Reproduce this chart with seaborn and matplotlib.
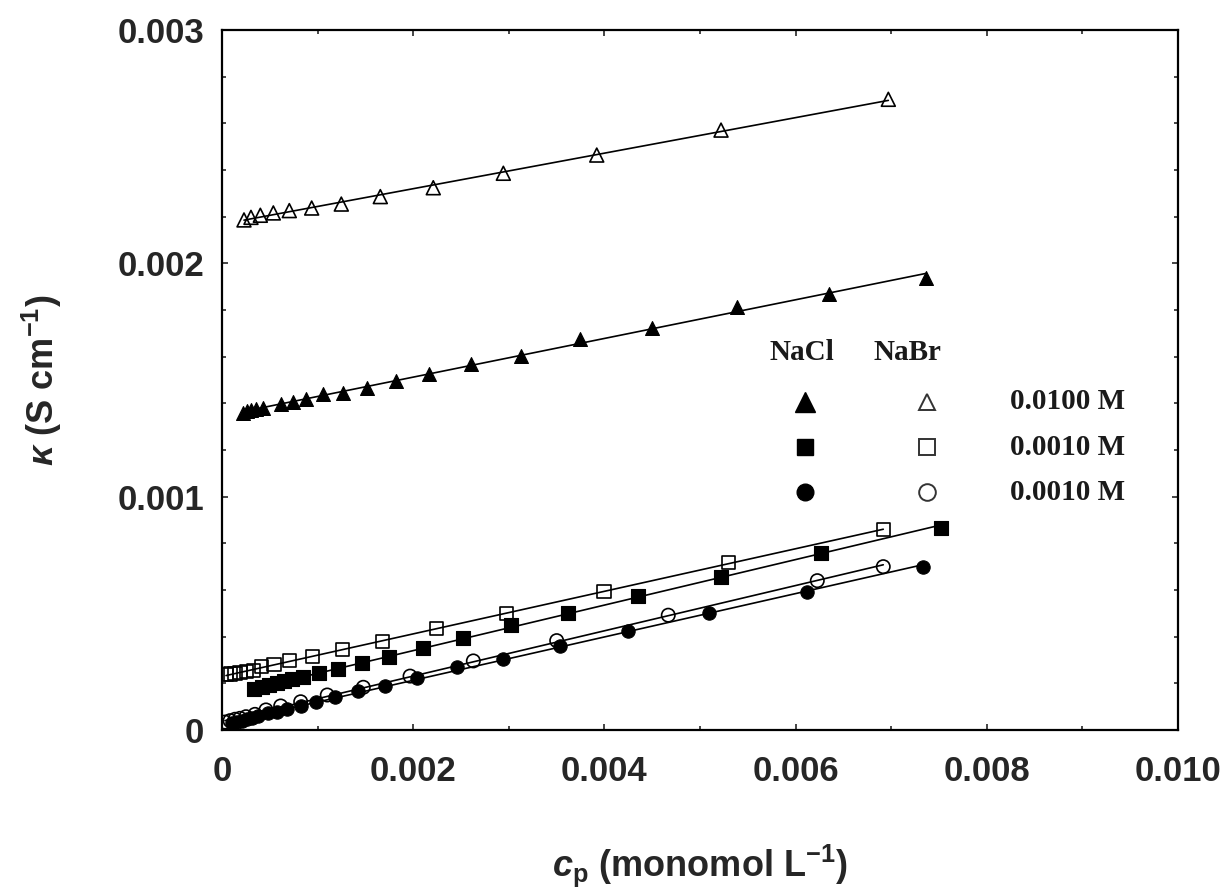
import numpy as np
import pandas as pd
import matplotlib
matplotlib.use('Agg')
import matplotlib.pyplot as plt
import seaborn as sns
from matplotlib.ticker import MultipleLocator, FixedLocator, FixedFormatter

# conductivity kappa (S cm^-1) vs polymer concentration c_p (monomol L^-1)
# NaCl 0.0100 M  (filled triangles)
nacl_hi_x = [0.000217, 0.000258, 0.000300, 0.000356, 0.000432, 0.000614, 0.000746,
             0.000879, 0.001053, 0.001263, 0.001514, 0.001817, 0.002168, 0.002605,
             0.003125, 0.003745, 0.004495, 0.005384, 0.006346, 0.007361]
nacl_hi_y = [0.001360, 0.001366, 0.001372, 0.001376, 0.001378, 0.001397, 0.001407,
             0.001420, 0.001440, 0.001446, 0.001467, 0.001496, 0.001524, 0.001567,
             0.001604, 0.001674, 0.001722, 0.001813, 0.001869, 0.001936]

# NaBr 0.0100 M  (open triangles)
nabr_hi_x = [0.000230, 0.000303, 0.000401, 0.000537, 0.000704, 0.000938, 0.001248,
             0.001656, 0.002210, 0.002943, 0.003920, 0.005220, 0.006970]
nabr_hi_y = [0.002186, 0.002197, 0.002206, 0.002216, 0.002226, 0.002237, 0.002254,
             0.002286, 0.002324, 0.002386, 0.002464, 0.002571, 0.002703]

# NaCl 0.0010 M  (filled squares)
nacl_sq_x = [0.000338, 0.000415, 0.000495, 0.000572, 0.000649, 0.000729, 0.000850,
             0.001018, 0.001217, 0.001461, 0.001750, 0.002099, 0.002518, 0.003023,
             0.003622, 0.004348, 0.005217, 0.006266, 0.007518]
nacl_sq_y = [0.000174, 0.000183, 0.000193, 0.000200, 0.000209, 0.000217, 0.000226,
             0.000243, 0.000261, 0.000286, 0.000314, 0.000350, 0.000396, 0.000450,
             0.000503, 0.000574, 0.000657, 0.000757, 0.000867]

# NaBr 0.0010 M  (open squares)
nabr_sq_x = [0.000042, 0.000084, 0.000136, 0.000188, 0.000258, 0.000327, 0.000415,
             0.000544, 0.000711, 0.000949, 0.001263, 0.001681, 0.002246, 0.002978,
             0.003996, 0.005296, 0.006917]
nabr_sq_y = [0.000236, 0.000240, 0.000243, 0.000246, 0.000252, 0.000257, 0.000271,
             0.000279, 0.000296, 0.000314, 0.000343, 0.000378, 0.000433, 0.000500,
             0.000593, 0.000717, 0.000860]

# NaCl 0.0010 M  (filled circles)
nacl_ci_x = [0.000101, 0.000154, 0.000206, 0.000258, 0.000311, 0.000380, 0.000484,
             0.000572, 0.000683, 0.000823, 0.000983, 0.001182, 0.001419, 0.001705,
             0.002043, 0.002455, 0.002943, 0.003536, 0.004250, 0.005097, 0.006116,
             0.007336]
nacl_ci_y = [0.000031, 0.000036, 0.000040, 0.000046, 0.000050, 0.000060, 0.000072,
             0.000078, 0.000089, 0.000103, 0.000121, 0.000140, 0.000168, 0.000189,
             0.000222, 0.000271, 0.000303, 0.000360, 0.000426, 0.000500, 0.000593,
             0.000697]

# NaBr 0.0010 M  (open circles)
nabr_ci_x = [0.000031, 0.000084, 0.000136, 0.000188, 0.000251, 0.000345, 0.000460,
             0.000614, 0.000823, 0.001101, 0.001478, 0.001967, 0.002629, 0.003501,
             0.004668, 0.006227, 0.006917]
nabr_ci_y = [0.000034, 0.000040, 0.000046, 0.000050, 0.000057, 0.000067, 0.000086,
             0.000103, 0.000121, 0.000150, 0.000183, 0.000231, 0.000296, 0.000383,
             0.000492, 0.000640, 0.000700]

x_ticks = [0, 0.002, 0.004, 0.006, 0.008, 0.010]
x_tick_labels = ['0', '0.002', '0.004', '0.006', '0.008', '0.010']
y_ticks = [0, 0.001, 0.002, 0.003]
y_tick_labels = ['0', '0.001', '0.002', '0.003']

legend_salts = ['NaCl', 'NaBr']
legend_conc = ['0.0100 M', '0.0010 M', '0.0010 M']

sns.set_style('ticks')
plt.rcParams['font.family'] = ['Liberation Sans', 'DejaVu Sans']
plt.rcParams['font.weight'] = 'bold'
plt.rcParams['mathtext.fontset'] = 'custom'
plt.rcParams['mathtext.rm'] = 'Liberation Sans:bold'
plt.rcParams['mathtext.it'] = 'Liberation Sans:bold:italic'
plt.rcParams['mathtext.bf'] = 'Liberation Sans:bold'

# (x, y, marker, filled, size)
series = [
    (nabr_hi_x, nabr_hi_y, '^', False, 10),
    (nacl_hi_x, nacl_hi_y, '^', True, 10),
    (nabr_sq_x, nabr_sq_y, 's', False, 9.4),
    (nacl_sq_x, nacl_sq_y, 's', True, 9.4),
    (nabr_ci_x, nabr_ci_y, 'o', False, 9.6),
    (nacl_ci_x, nacl_ci_y, 'o', True, 9.6),
]

fig = plt.figure(figsize=(12.31, 8.94), dpi=100)
ax = fig.add_axes([222 / 1231, 1 - 730 / 894, 956 / 1231, 700 / 894])

for xs, ys, mk, filled, ms in series:
    df = pd.DataFrame({'cp': xs, 'kappa': ys})
    sns.regplot(data=df, x='cp', y='kappa', ax=ax, scatter=False, ci=None,
                truncate=True, line_kws=dict(color='black', lw=1.2, zorder=2))
    if filled:
        sns.scatterplot(data=df, x='cp', y='kappa', ax=ax, marker=mk, s=ms ** 2,
                        color='black', edgecolor='black', linewidth=0.8, zorder=3)
    else:
        sns.scatterplot(data=df, x='cp', y='kappa', ax=ax, marker=mk, s=ms ** 2,
                        facecolor='none', edgecolor='black', linewidth=1.2, zorder=3)

ax.set_xlim(0, 0.010)
ax.set_ylim(0, 0.003)
ax.xaxis.set_major_locator(FixedLocator(x_ticks))
ax.xaxis.set_major_formatter(FixedFormatter(x_tick_labels))
ax.yaxis.set_major_locator(FixedLocator(y_ticks))
ax.yaxis.set_major_formatter(FixedFormatter(y_tick_labels))
ax.xaxis.set_minor_locator(MultipleLocator(0.001))
ax.yaxis.set_minor_locator(MultipleLocator(0.0002))
ax.tick_params(which='both', direction='in', top=True, right=True, width=1.2)
ax.tick_params(which='major', length=4)
ax.tick_params(which='minor', length=3)
ax.tick_params(axis='x', which='major', pad=18, labelsize=25)
ax.tick_params(axis='y', which='major', pad=13, labelsize=25)
for sp in ax.spines.values():
    sp.set_visible(True)
    sp.set_linewidth(1.6)
    sp.set_color('black')

ax.set_xlabel(r'$c_{\mathrm{p}}$ (monomol L$^{\mathrm{-1}}$)', fontsize=26, fontweight='bold')
ax.set_ylabel(r'$\kappa$ (S cm$^{\mathrm{-1}}$)', fontsize=26, fontweight='bold')
ax.xaxis.set_label_coords(0.5, -0.16)
ax.yaxis.set_label_coords(-0.165, 0.5)

# key table drawn in axes fraction
col_nacl, col_nabr, col_txt = 0.610, 0.737, 0.824
row_head = 0.539
rows = [0.469, 0.404, 0.340]
serif = dict(family='Liberation Serif', weight='bold', size=21, color='#1a1a1a')
ax.text(0.607, row_head, legend_salts[0], transform=ax.transAxes, ha='center', va='center', **serif)
ax.text(0.717, row_head, legend_salts[1], transform=ax.transAxes, ha='center', va='center', **serif)
key_markers = [('^', 15, 12), ('s', 12, 12), ('o', 12, 12)]
for r, lab, (mk, ms_f, ms_o) in zip(rows, legend_conc, key_markers):
    ax.plot([col_nacl], [r], marker=mk, ms=ms_f, color='black', ls='none',
            transform=ax.transAxes, clip_on=False)
    ax.plot([col_nabr], [r], marker=mk, ms=ms_o, mfc='none', mec='#333333', mew=1.4,
            ls='none', transform=ax.transAxes, clip_on=False)
    ax.text(col_txt, r, lab, transform=ax.transAxes, ha='left', va='center', **serif)

fig.savefig('out.png', dpi=100)
